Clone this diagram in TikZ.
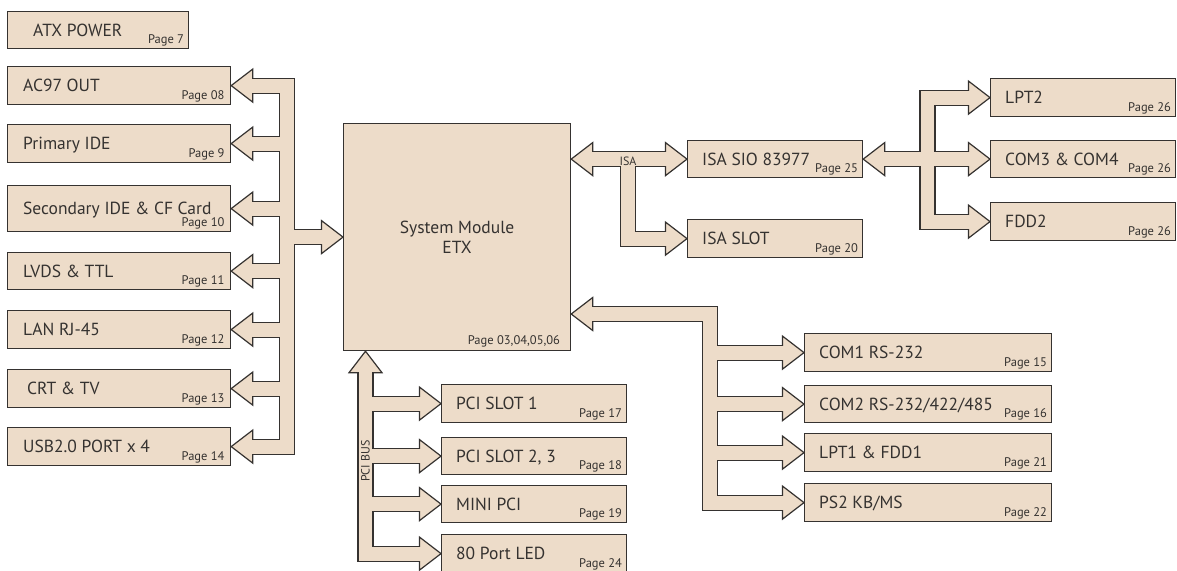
\documentclass[tikz,border=0pt]{standalone}
\usepackage{fontspec}
\setmainfont{PT Sans}
\usetikzlibrary{calc,positioning}
\definecolor{tan1}{HTML}{EDDCC9}
\definecolor{ink}{HTML}{353230}
\def\headl{21.5}
\def\headh{16.5}
% block arrow heads, given the tip
\newcommand{\headL}[1]{\draw[arrowhd] (#1) -- ++(\headl,-\headh) -- ++(0,2*\headh) -- cycle;}
\newcommand{\headR}[1]{\draw[arrowhd] (#1) -- ++(-\headl,-\headh) -- ++(0,2*\headh) -- cycle;}
\newcommand{\headU}[1]{\draw[arrowhd] (#1) -- ++(-\headh,\headl) -- ++(2*\headh,0) -- cycle;}
% all bus shafts, drawn once dark and wide, once light and narrow
\newcommand{\shafts}{%
  % left bus
  \draw ($(ac97.east)+(19.5,0)$) -| (lb |- usb.east) -- ($(usb.east)+(19.5,0)$);
  \foreach \n in {pide,sec,lvds,lan,crt}
    \draw ($(\n.east)+(19.5,0)$) -- (lb |- \n.east);
  \draw (lb |- mod.west) -- ($(mod.west)+(-19.5,0)$);
  % ISA bus
  \draw ($(mod.east |- sio.west)+(19.5,0)$) -- ($(sio.west)+(-19.5,0)$);
  \draw (ib |- sio.west) |- ($(slot.west)+(-19.5,0)$);
  % SIO bus
  \draw ($(sio.east)+(19.5,0)$) -- ($(com3.west)+(-19.5,0)$);
  \draw ($(lpt2.west)+(-19.5,0)$) -| (rb |- fdd2.west) -- ($(fdd2.west)+(-19.5,0)$);
  % PCI bus
  \draw ($(pb |- mod.south)+(0,19.5)$) |- ($(led.west)+(-19.5,0)$);
  \foreach \n in {pci1,pci2,mini}
    \draw (pb |- \n.west) -- ($(\n.west)+(-19.5,0)$);
  % COM bus
  \draw ($(mod.east |- cy)+(19.5,0)$) -| (cb |- ps2.west) -- ($(ps2.west)+(-19.5,0)$);
  \foreach \n in {com1,com2,lpt1}
    \draw (cb |- \n.west) -- ($(\n.west)+(-19.5,0)$);
}

\begin{document}
\begin{tikzpicture}[x=1pt,y=-1pt]
\tikzstyle{blk}=[rectangle,draw=ink,fill=tan1,line width=1.2pt,inner sep=0pt,anchor=north west]
\tikzstyle{blktext}=[anchor=base west,inner sep=0pt,text=ink,font=\fontsize{17.5}{21}\selectfont]
\tikzstyle{pagelbl}=[anchor=base east,inner sep=0pt,text=ink,font=\fontsize{12.5}{14}\selectfont]
\tikzstyle{buslbl}=[inner sep=0pt,text=ink,font=\fontsize{12}{14}\selectfont]
\tikzstyle{arrowhd}=[draw=ink,fill=tan1,line width=1.2pt,line join=miter]

\useasboundingbox (0,0) rectangle (1177,570);

% bus lines
\coordinate (lb) at (287,0);
\coordinate (ib) at (628,0);
\coordinate (rb) at (927.5,0);
\coordinate (pb) at (365.5,0);
\coordinate (cb) at (710,0);
\coordinate (cy) at (0,314);

% System module
\node[blk,minimum width=227,minimum height=227,align=center,text=ink,
  font=\fontsize{17.5}{20}\selectfont] (mod) at (343,123) {System Module\\ETX};
\node[pagelbl] (mod-p) at ($(mod.south east)+(-11,-7)$) {Page 03,04,05,06};

% ATX power
\node[blk,minimum width=181,minimum height=37] (atx) at (7,11) {};
\node[blktext] (atx-t) at ($(atx.west)+(26,6.1)$) {ATX POWER};
\node[pagelbl] (atx-p) at ($(atx.south east)+(-5,-6)$) {Page 7};

% Left column
\foreach \n/\y/\h/\pad/\txt/\pg in {ac97/66/38/16/AC97 OUT/Page 08,
  pide/124/38/16/Primary IDE/Page 9,
  sec/185/46/16/Secondary IDE \& CF Card/Page 10,
  lvds/252/37/16/LVDS \& TTL/Page 11,
  lan/310/38/16/LAN RJ-45/Page 12,
  crt/369/38/20/CRT \& TV/Page 13,
  usb/427/38/16/USB2.0 PORT x 4/Page 14}
{
  \node[blk,minimum width=223,minimum height=\h] (\n) at (7,\y) {};
  \node[blktext] (\n-t) at ($(\n.west)+(\pad,6.1)$) {\txt};
  \node[pagelbl] (\n-p) at ($(\n.south east)+(-6.5,-5.5)$) {\pg};
}

% The other boxes
\foreach \n/\x/\y/\w/\h/\txt/\pg in {sio/687/140/175/37/ISA SIO 83977/Page 25,
  slot/687/219/175/38/ISA SLOT/Page 20,
  lpt2/990/78/185/38/LPT2/Page 26,
  com3/990/140/185/37/COM3 \& COM4/Page 26,
  fdd2/990/202/185/38/FDD2/Page 26,
  pci1/441/384/185/38/PCI SLOT 1/Page 17,
  pci2/441/437/185/37/{PCI SLOT 2, 3}/Page 18,
  mini/441/485/185/37/MINI PCI/Page 19,
  led/441/534/185/38/80 Port LED/Page 24,
  com1/804/333/247/38/COM1 RS-232/Page 15,
  com2/804/385/247/37/{COM2 RS-232/422/485}/Page 16,
  lpt1/804/433/247/38/LPT1 \& FDD1/Page 21,
  ps2/804/483/247/38/{PS2 KB/MS}/Page 22}
{
  \node[blk,minimum width=\w,minimum height=\h] (\n) at (\x,\y) {};
  \node[blktext] (\n-t) at ($(\n.west)+(15,6.1)$) {\txt};
  \node[pagelbl] (\n-p) at ($(\n.south east)+(-5,-5.5)$) {\pg};
}

% Buses: dark outline first, then heads, then light inside
\begin{scope}[ink,line width=16.2pt]
\shafts
\end{scope}
\foreach \n in {ac97,pide,sec,lvds,lan,crt,usb}
  {\headL{\n.east}}
\headL{mod.east |- sio.west}
\headL{sio.east}
\headL{mod.east |- cy}
\foreach \n in {mod,sio,slot,lpt2,com3,fdd2,pci1,pci2,mini,led,com1,com2,lpt1,ps2}
  {\headR{\n.west}}
\headU{pb |- mod.south}
\begin{scope}[tan1,line width=13.8pt]
\shafts
\end{scope}

% Bus names
\node[buslbl,anchor=base] (isa) at (628,165) {ISA};
\node[buslbl,rotate=90] (pcibus) at (365.5,461) {PCI BUS};
\end{tikzpicture}
\end{document}
